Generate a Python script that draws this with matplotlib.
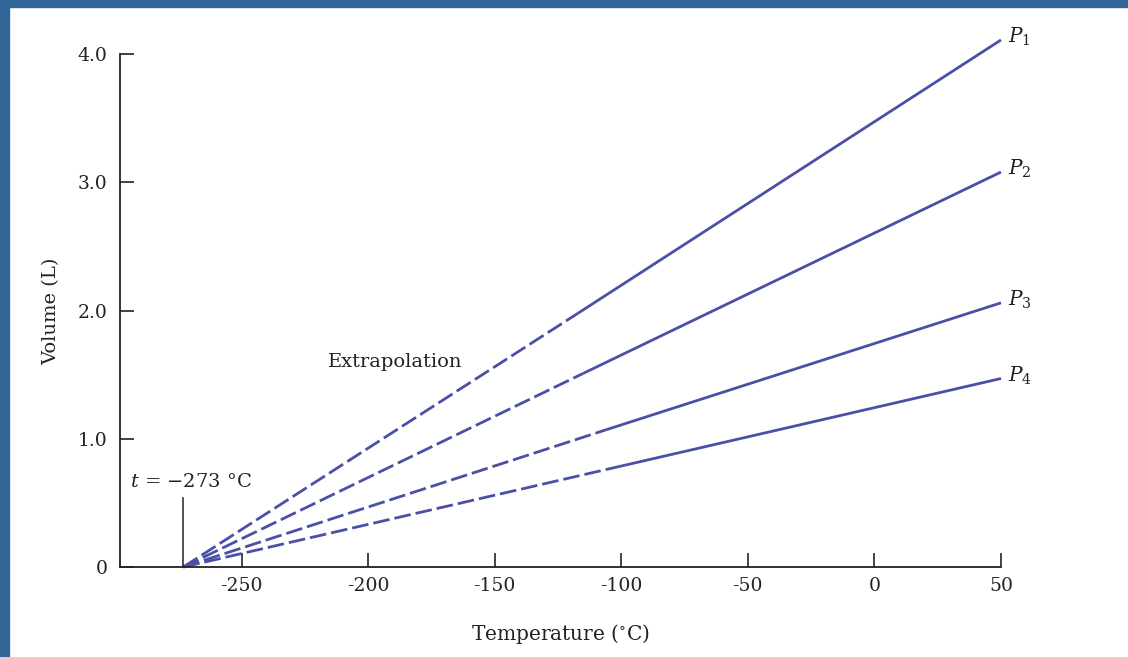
import matplotlib.pyplot as plt
from matplotlib.patches import Rectangle

# Charles's law: volume vs temperature at four pressures
series = ['$P_1$', '$P_2$', '$P_3$', '$P_4$']
abs_zero = -273
t_break = [-117, -115, -106, -106]   # where the extrapolated (dashed) part ends
v_break = [1.98, 1.51, 1.07, 0.76]
t_end = 50
v_end = [4.11, 3.08, 2.06, 1.47]

x_ticks = [-250, -200, -150, -100, -50, 0, 50]
y_ticks = [0, 1.0, 2.0, 3.0, 4.0]
y_ticklabels = ['0', '1.0', '2.0', '3.0', '4.0']

line_color = '#4a50a6'
frame_color = '#336699'
ink = '#222222'

plt.rcParams['font.family'] = 'DejaVu Serif'
plt.rcParams['mathtext.fontset'] = 'dejavuserif'

fig = plt.figure(figsize=(11.28, 6.57), dpi=100)
fig.patch.set_facecolor('white')

# blue frame strips (top and left)
fig.patches.append(Rectangle((0, 1 - 7 / 657), 1, 7 / 657, transform=fig.transFigure,
                             color=frame_color, zorder=0))
fig.patches.append(Rectangle((0, 0), 9 / 1128, 1, transform=fig.transFigure,
                             color=frame_color, zorder=0))

ax = fig.add_axes([120 / 1128, 90 / 657, 881 / 1128, 538.6 / 657])
ax.set_xlim(-298, 50)
ax.set_ylim(0, 4.2)

for i in range(len(series)):
    ax.plot([abs_zero, t_break[i]], [0, v_break[i]], color=line_color, lw=2.0,
            dashes=(6, 1.8), solid_capstyle='butt', clip_on=False)
    ax.plot([t_break[i], t_end], [v_break[i], v_end[i]], color=line_color, lw=2.0,
            solid_capstyle='butt', clip_on=False)
    ax.annotate(series[i], (t_end, v_end[i]), xytext=(5, 2), textcoords='offset points',
                ha='left', va='center', fontsize=14.5, color=ink)

# marker for absolute zero
ax.plot([abs_zero, abs_zero], [0, 0.54], color=ink, lw=1.1)
ax.text(-294, 0.59, '$t$ = −273 °C', fontsize=14, color=ink, ha='left', va='bottom')
ax.text(-216, 1.6, 'Extrapolation', fontsize=14, color=ink, ha='left', va='center')

for side in ['top', 'right']:
    ax.spines[side].set_visible(False)
ax.spines['left'].set_bounds(0, 4.0)
for side in ['left', 'bottom']:
    ax.spines[side].set_linewidth(1.3)
    ax.spines[side].set_color(ink)

ax.set_xticks(x_ticks)
ax.set_xticklabels([str(t) for t in x_ticks])
ax.set_yticks(y_ticks)
ax.set_yticklabels(y_ticklabels)
ax.tick_params(direction='in', length=10, width=1.2, labelsize=13.5, colors=ink, pad=9)
ax.tick_params(axis='x', pad=7)

ax.set_xlabel('Temperature ($^{\\circ}$C)', fontsize=14.5, color=ink, labelpad=20)
ax.set_ylabel('Volume (L)', fontsize=14, color=ink)
ax.yaxis.set_label_coords(-0.068, 0.475)

fig.savefig('out.png', dpi=100, facecolor='white')
